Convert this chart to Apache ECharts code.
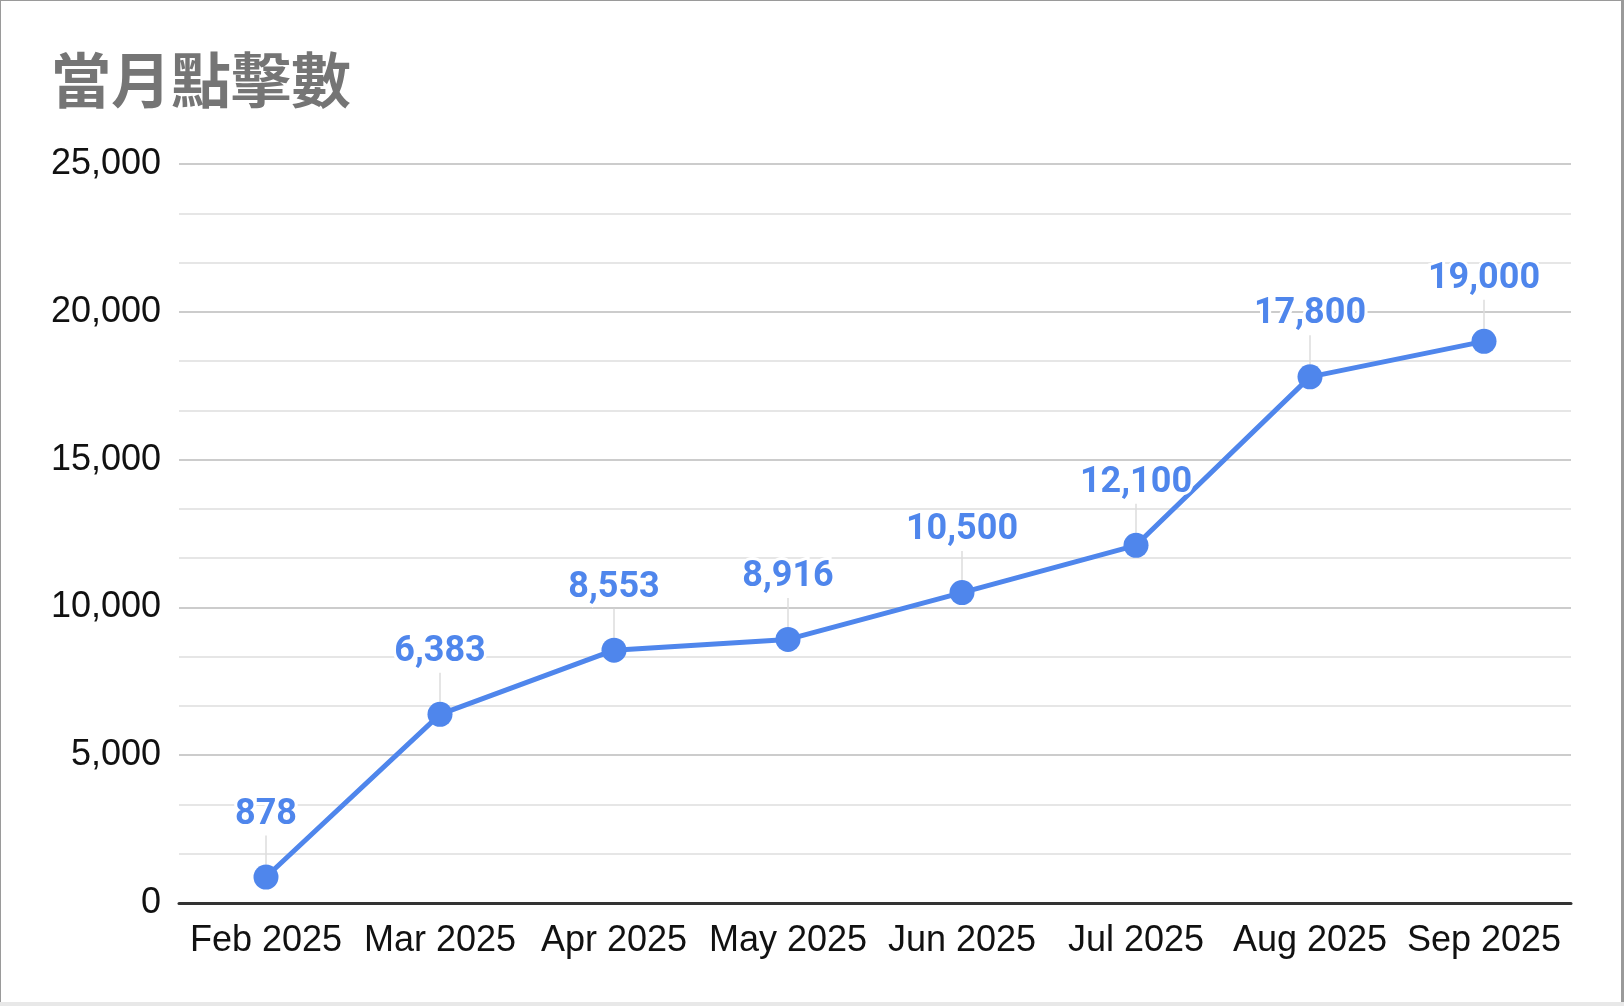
<!DOCTYPE html>
<html>
<head>
<meta charset="utf-8">
<script src="https://cdn.jsdelivr.net/npm/echarts@6/dist/echarts.min.js"></script>
<style>
html,body{margin:0;padding:0;background:#fff;}
#chart{position:absolute;left:0;top:0;width:1624px;height:1006px;}
.b{position:absolute;pointer-events:none;}
</style>
</head>
<body>
<div id="chart"></div>
<div class="b" style="left:0;top:0;width:1624px;height:1px;background:#9a9a9a"></div>
<div class="b" style="left:0;top:0;width:1px;height:1006px;background:#9a9a9a"></div>
<div class="b" style="left:1621px;top:0;width:3px;height:1002px;background:#9a9a9a"></div>
<div class="b" style="left:0;top:1002px;width:1624px;height:4px;background:#e8e8e8"></div>
<script>
const title = '當月點擊數';
const categories = ['Feb 2025','Mar 2025','Apr 2025','May 2025','Jun 2025','Jul 2025','Aug 2025','Sep 2025'];
const clicks = [878, 6383, 8553, 8916, 10500, 12100, 17800, 19000];
const yMin = 0, yMax = 25000, yStep = 5000;

const chart = echarts.init(document.getElementById('chart'));
const blue = '#4f86ec';
chart.setOption({
  animation: false,
  title: {
    text: title, left: 46, top: 44,
    textStyle: {fontFamily: '"Noto Sans CJK TC", sans-serif', fontSize: 60, fontWeight: 'bold', color: '#757575', lineHeight: 62}
  },
  grid: {left: 179, right: 53, top: 164, bottom: 103, containLabel: false},
  xAxis: {
    type: 'category', data: categories, boundaryGap: true,
    axisLine: {lineStyle: {color: '#333', width: 3}},
    axisTick: {show: false},
    axisLabel: {color: '#111', fontFamily: '"Liberation Sans", Arial, sans-serif', fontSize: 36, margin: 20, interval: 0}
  },
  yAxis: {
    type: 'value', min: yMin, max: yMax, interval: yStep,
    axisLine: {show: false}, axisTick: {show: false},
    axisLabel: {color: '#111', fontFamily: '"Liberation Sans", Arial, sans-serif', fontSize: 36, margin: 18,
      formatter: v => v.toLocaleString('en-US')},
    splitLine: {lineStyle: {color: '#cccccc', width: 2}},
    minorTick: {show: false, splitNumber: 3},
    minorSplitLine: {show: true, lineStyle: {color: '#e6e6e6', width: 2}}
  },
  series: [{
    type: 'line', data: clicks,
    symbol: 'circle', symbolSize: 25,
    lineStyle: {color: blue, width: 5},
    itemStyle: {color: blue},
    label: {
      show: true, position: 'top', distance: 4,
      color: blue, fontFamily: 'Roboto, "Noto Sans", sans-serif', fontWeight: 'bold', fontSize: 36,
      textBorderColor: '#fff', textBorderWidth: 6,
      formatter: p => p.value.toLocaleString('en-US')
    },
    labelLayout: {dy: -28},
    labelLine: {show: true, lineStyle: {color: '#dddddd', width: 1.5}}
  }]
});
</script>
</body>
</html>
